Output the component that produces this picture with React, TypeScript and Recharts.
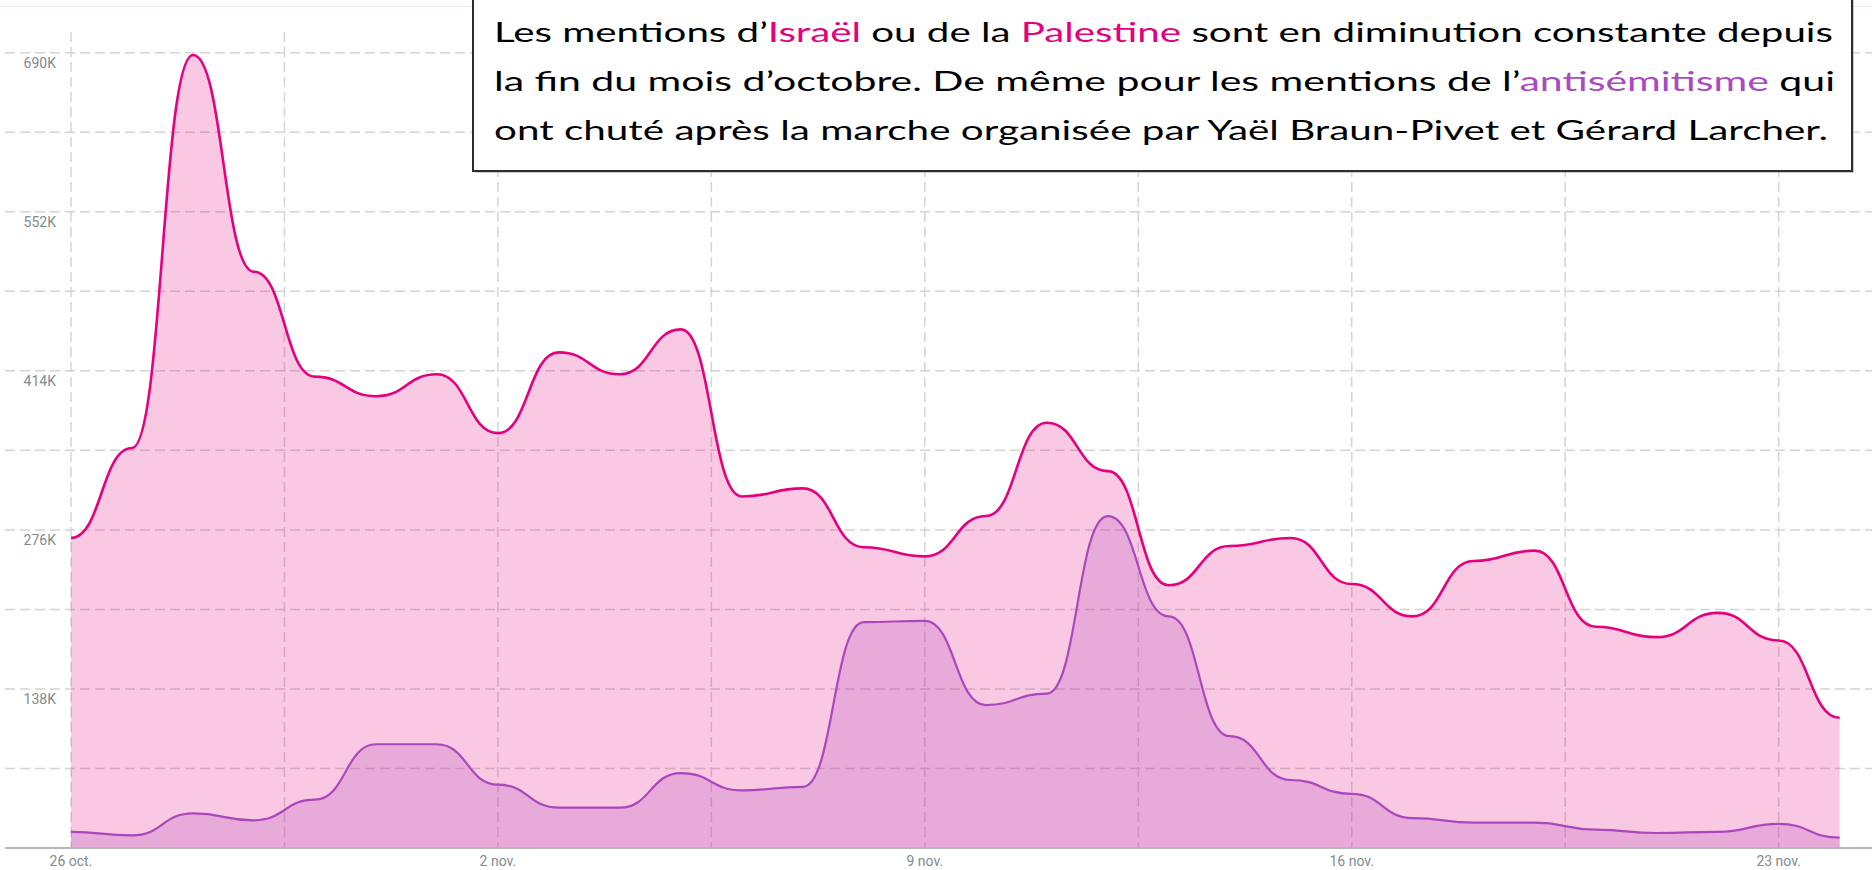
import { AreaChart, Area, XAxis, YAxis, CartesianGrid } from "recharts"

// one point per day, 26 oct. -> 24 nov. 2023
const dates = [
  "2023-10-26", "2023-10-27", "2023-10-28", "2023-10-29", "2023-10-30", "2023-10-31",
  "2023-11-01", "2023-11-02", "2023-11-03", "2023-11-04", "2023-11-05", "2023-11-06",
  "2023-11-07", "2023-11-08", "2023-11-09", "2023-11-10", "2023-11-11", "2023-11-12",
  "2023-11-13", "2023-11-14", "2023-11-15", "2023-11-16", "2023-11-17", "2023-11-18",
  "2023-11-19", "2023-11-20", "2023-11-21", "2023-11-22", "2023-11-23", "2023-11-24",
]

const israelPalestine = [
  269000, 347000, 688000, 500000, 409000, 392000, 411000, 360000, 430000, 411000,
  450000, 305000, 312000, 261000, 253000, 288000, 369000, 327000, 228000, 262000,
  269000, 229000, 201000, 249000, 258000, 192000, 183000, 204000, 180000, 113000,
]

const antisemitisme = [
  14000, 11000, 30000, 24000, 42000, 90000, 90000, 55000, 35000, 35000,
  65000, 50000, 53000, 196000, 197000, 124000, 134000, 288000, 201000, 97000,
  59000, 47000, 26000, 22000, 22000, 16000, 13000, 14000, 21000, 9000,
]

// vertical grid every half week, labels once a week
const gridDays = [0, 3.5, 7, 10.5, 14, 17.5, 21, 24.5, 28]
const dayLabels: Record<number, string> = {
  0: "26 oct.",
  7: "2 nov.",
  14: "9 nov.",
  21: "16 nov.",
  28: "23 nov.",
}

const yTicks = [0, 69000, 138000, 207000, 276000, 345000, 414000, 483000, 552000, 621000, 690000]
const yLabels: Record<number, string> = {
  138000: "138K",
  276000: "276K",
  414000: "414K",
  552000: "552K",
  690000: "690K",
}

const data = dates.map((date, i) => ({
  day: i,
  date,
  ip: israelPalestine[i],
  anti: antisemitisme[i],
}))

const PINK = "#e5007d"
const PURPLE = "#ab47bc"
const AXIS_TEXT = "#7f8c8d"

const renderXTick = (props: any) => {
  const { x, y, payload } = props
  const label = dayLabels[payload.value]
  if (!label) return <g />
  return (
    <text x={x} y={y + 18} textAnchor="middle" fill={AXIS_TEXT} fontSize={14} fontFamily="Roboto">
      {label}
    </text>
  )
}

const renderYTick = (props: any) => {
  const { y, payload } = props
  const label = yLabels[payload.value]
  if (!label) return <g />
  return (
    <text x={56} y={y + 15} textAnchor="end" fill={AXIS_TEXT} fontSize={14} fontFamily="Roboto">
      {label}
    </text>
  )
}

function Annotation() {
  const textProps = {
    x: 494,
    fontFamily: "Lato",
    fontSize: 27,
    fill: "#000",
    lengthAdjust: "spacingAndGlyphs" as const,
    style: { whiteSpace: "pre" as const },
  }
  return (
    <svg
      width={1872}
      height={200}
      style={{ position: "absolute", left: 0, top: 0, pointerEvents: "none" }}
    >
      <line x1={0} x2={1872} y1={6.5} y2={6.5} stroke="#e3eaf2" strokeWidth={1} />
      <rect x={475} y={-8} width={1379} height={181} fill="#9a9a9a" opacity={0.5} />
      <rect x={473} y={-10} width={1379} height={181} fill="#fff" stroke="#2e2e2e" strokeWidth={2} />
      <text {...textProps} y={42} textLength={1339}>
        <tspan>{"Les mentions d’"}</tspan>
        <tspan fill={PINK}>{"Israël"}</tspan>
        <tspan>{" ou de la "}</tspan>
        <tspan fill={PINK}>{"Palestine"}</tspan>
        <tspan>{" sont en diminution constante depuis"}</tspan>
      </text>
      <text {...textProps} y={91} textLength={1341}>
        <tspan>{"la fin du mois d’octobre. De même pour les mentions de l’"}</tspan>
        <tspan fill="#a94bc0">{"antisémitisme"}</tspan>
        <tspan>{" qui"}</tspan>
      </text>
      <text {...textProps} y={140} textLength={1334}>
        {"ont chuté après la marche organisée par Yaël Braun-Pivet et Gérard Larcher."}
      </text>
    </svg>
  )
}

export default function App() {
  return (
    <div
      style={{
        position: "absolute",
        left: 0,
        top: 0,
        width: 1872,
        height: 870,
        background: "#fff",
        overflow: "hidden",
      }}
    >
      <AreaChart width={1872} height={870} data={data} margin={{ top: 32, right: 0, left: 4, bottom: 0 }}>
        <CartesianGrid stroke="#d4d4d4" strokeWidth={1.5} strokeDasharray="10 5" syncWithTicks />
        <XAxis
          dataKey="day"
          type="number"
          domain={[-1.082, 29.53]}
          allowDataOverflow
          ticks={gridDays}
          interval={0}
          tick={renderXTick}
          tickLine={false}
          tickSize={0}
          tickMargin={0}
          height={22}
          axisLine={{ stroke: "#b3b9b9", strokeWidth: 2 }}
        />
        <YAxis
          type="number"
          domain={[0, 708000]}
          allowDataOverflow
          ticks={yTicks}
          interval={0}
          width={1}
          tick={renderYTick}
          tickLine={false}
          axisLine={false}
        />
        <Area
          type="bumpX"
          dataKey="ip"
          stroke={PINK}
          strokeWidth={2.6}
          fill={PINK}
          fillOpacity={0.21}
          dot={false}
          activeDot={false}
          isAnimationActive={false}
        />
        <Area
          type="bumpX"
          dataKey="anti"
          stroke={PURPLE}
          strokeWidth={2.2}
          fill={PURPLE}
          fillOpacity={0.23}
          dot={false}
          activeDot={false}
          isAnimationActive={false}
        />
      </AreaChart>
      <Annotation />
    </div>
  )
}
